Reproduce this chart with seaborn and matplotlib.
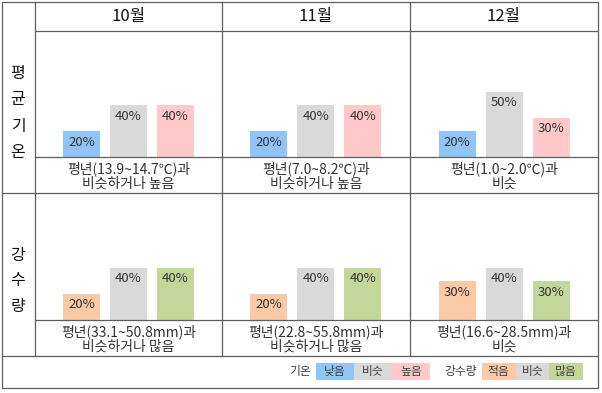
import matplotlib
matplotlib.use("Agg")
import matplotlib.pyplot as plt
import seaborn as sns
import pandas as pd
from matplotlib.patches import Rectangle

# --- data ---
months = ["10월", "11월", "12월"]
temp_cats = ["낮음", "비슷", "높음"]
precip_cats = ["적음", "비슷", "많음"]
temp_probs = [[20, 40, 40], [20, 40, 40], [20, 50, 30]]
precip_probs = [[20, 40, 40], [20, 40, 40], [30, 40, 30]]
temp_notes = ["평년(13.9~14.7℃)과\n비슷하거나 높음",
              "평년(7.0~8.2℃)과\n비슷하거나 높음",
              "평년(1.0~2.0℃)과\n비슷"]
precip_notes = ["평년(33.1~50.8mm)과\n비슷하거나 많음",
                "평년(22.8~55.8mm)과\n비슷하거나 많음",
                "평년(16.6~28.5mm)과\n비슷"]
row_labels = ["평균기온", "강수량"]
temp_colors = ["#92C5F7", "#D9D9D9", "#FFC9C9"]
precip_colors = ["#FAC9A5", "#D9D9D9", "#C4D79B"]

sns.set_style("white")
plt.rcParams["font.family"] = ["Noto Sans CJK KR", "DejaVu Sans"]

W, H = 602, 393
fig = plt.figure(figsize=(W / 100, H / 100), dpi=100)

# layout in pixels
col_edges = [35, 222, 410, 598]
row_tops = [31, 193]
baselines = [157, 320]
row_bottoms = [193, 356]
px_per_pct = 1.3
bar_step = 47
line_c = "#5e5e5e"

rows = [(temp_cats, temp_probs, temp_colors, temp_notes),
        (precip_cats, precip_probs, precip_colors, precip_notes)]

for r, (cats, probs, colors, notes) in enumerate(rows):
    for c in range(3):
        x0, x1 = col_edges[c], col_edges[c + 1]
        top, base = row_tops[r], baselines[r]
        ax = fig.add_axes([x0 / W, 1 - base / H, (x1 - x0) / W, (base - top) / H])
        df = pd.DataFrame({"cat": cats, "prob": probs[c]})
        sns.barplot(data=df, x="cat", y="prob", hue="cat", palette=colors,
                    width=37 / bar_step, saturation=1, linewidth=0,
                    legend=False, ax=ax)
        for i, v in enumerate(probs[c]):
            ax.annotate(f"{v}%", (i, v), xytext=(0, -11), textcoords="offset pixels",
                        ha="center", va="center", fontsize=9.5, color="#333333")
        half = (x1 - x0) / 2 / bar_step
        ax.set_xlim(1 - half, 1 + half)
        ax.set_ylim(0, (base - top) / px_per_pct)
        ax.axis("off")

# overlay for table lines and text
bg = fig.add_axes([0, 0, 1, 1], zorder=5)
bg.set_xlim(0, W)
bg.set_ylim(H, 0)
bg.axis("off")
bg.patch.set_alpha(0)

lk = dict(color=line_c, lw=0.9)
bg.plot([2, 598, 598, 2, 2], [2, 2, 388, 388, 2], **lk)
for x in col_edges[:-1]:
    bg.plot([x, x], [2, 356], **lk)
bg.plot([35, 598], [31, 31], **lk)
bg.plot([2, 598], [193, 193], **lk)
bg.plot([2, 598], [356, 356], **lk)
for b in baselines:
    bg.plot([35, 598], [b, b], **lk)

for c, m in enumerate(months):
    cx = (col_edges[c] + col_edges[c + 1]) / 2
    bg.text(cx, 17, m, ha="center", va="center", fontsize=12, color="#111111")
    for r, (cats, probs, colors, notes) in enumerate(rows):
        cy = (baselines[r] + row_bottoms[r]) / 2 + 1
        bg.text(cx, cy, notes[c], ha="center", va="center", fontsize=10,
                color="#333333", linespacing=1.1)

bg.text(18, 113, "\n".join(row_labels[0]), ha="center", va="center",
        fontsize=11.5, linespacing=1.7, color="#111111")
bg.text(18, 281, "\n".join(row_labels[1]), ha="center", va="center",
        fontsize=11.5, linespacing=1.65, color="#111111")

# legend
leg_y0, leg_y1 = 363, 380
leg_groups = [("기온", 300, temp_cats, temp_colors, 316, 38),
              ("강수량", 461, precip_cats, precip_colors, 482, 33.5)]
for title, tx, cats, colors, bx, bw in leg_groups:
    bg.text(tx, (leg_y0 + leg_y1) / 2, title, ha="center", va="center",
            fontsize=8.5, color="#404040")
    for i, (cat, col) in enumerate(zip(cats, colors)):
        bg.add_patch(Rectangle((bx + i * bw, leg_y0), bw, leg_y1 - leg_y0,
                               facecolor=col, edgecolor="none"))
        bg.text(bx + i * bw + bw / 2, (leg_y0 + leg_y1) / 2, cat, ha="center",
                va="center", fontsize=8.5, color="#404040")

fig.savefig("out.png", dpi=100)
